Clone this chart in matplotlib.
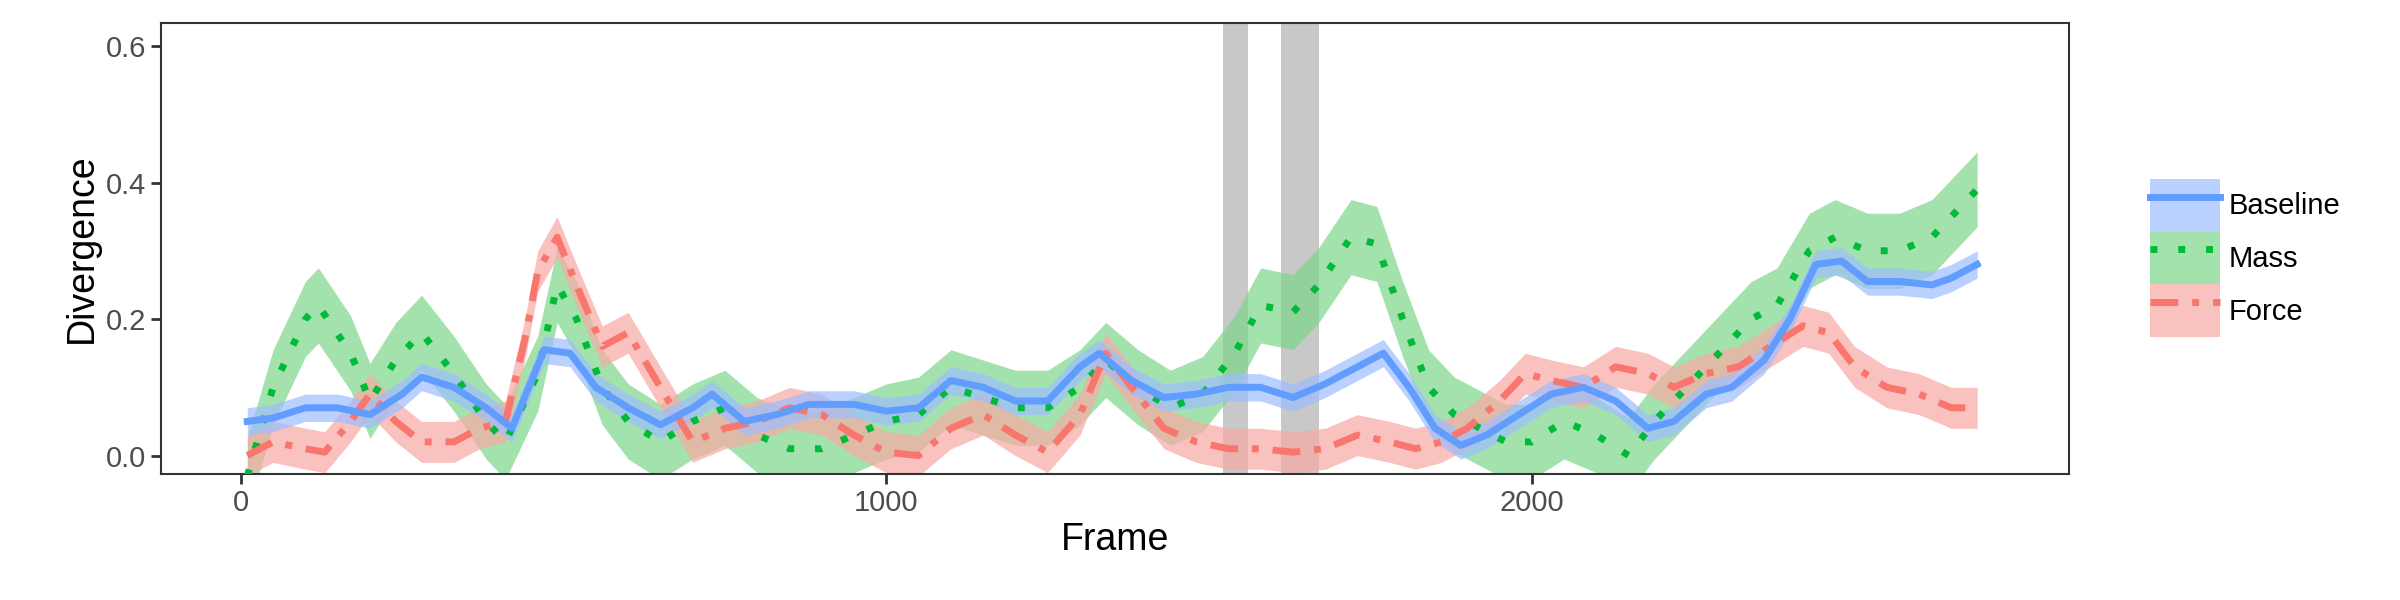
import matplotlib
matplotlib.use("Agg")
import matplotlib.pyplot as plt
from matplotlib.patches import Patch
from matplotlib.lines import Line2D

plt.rcParams['font.family'] = ['Liberation Sans', 'DejaVu Sans']

baseline_frames = [10,50,100,150,200,250,280,330,380,420,470,510,550,600,650,700,730,780,830,880,950,1000,1050,1100,1150,1200,1250,1300,1330,1380,1430,1480,1530,1580,1630,1680,1730,1770,1810,1850,1890,1930,1980,2030,2080,2130,2180,2220,2270,2310,2360,2400,2440,2480,2520,2570,2620,2650,2690]
baseline_vals = [0.05,0.055,0.07,0.07,0.06,0.09,0.115,0.1,0.07,0.04,0.155,0.15,0.1,0.07,0.045,0.07,0.09,0.05,0.06,0.075,0.075,0.065,0.07,0.11,0.1,0.08,0.08,0.13,0.15,0.11,0.085,0.09,0.1,0.1,0.085,0.105,0.13,0.15,0.1,0.04,0.015,0.03,0.06,0.09,0.1,0.08,0.04,0.05,0.09,0.1,0.14,0.2,0.28,0.285,0.255,0.255,0.25,0.26,0.28]

mass_frames = [10,50,100,120,170,200,240,280,330,380,410,460,490,520,560,600,650,700,750,800,850,900,950,1000,1050,1100,1150,1200,1250,1300,1340,1390,1440,1490,1540,1580,1630,1670,1720,1760,1800,1840,1880,1920,1960,2000,2050,2100,2150,2190,2240,2290,2340,2380,2430,2470,2520,2570,2620,2660,2690]
mass_vals = [-0.03,0.1,0.2,0.22,0.15,0.08,0.14,0.18,0.12,0.05,0.02,0.12,0.25,0.2,0.1,0.05,0.02,0.05,0.07,0.03,0.01,0.01,0.03,0.05,0.06,0.1,0.085,0.07,0.07,0.1,0.14,0.1,0.07,0.09,0.15,0.22,0.21,0.25,0.32,0.31,0.2,0.1,0.06,0.04,0.02,0.02,0.05,0.03,0.0,0.05,0.1,0.15,0.2,0.22,0.3,0.32,0.3,0.3,0.32,0.36,0.39]

force_frames = [10,50,100,130,170,200,240,280,330,370,410,440,460,490,520,560,600,650,700,750,800,850,900,950,1000,1050,1100,1150,1200,1250,1300,1340,1380,1430,1480,1530,1580,1630,1680,1730,1780,1820,1860,1900,1950,1990,2030,2080,2130,2180,2220,2270,2320,2370,2420,2460,2500,2550,2600,2650,2690]
force_vals = [0.0,0.02,0.01,0.005,0.05,0.09,0.05,0.02,0.02,0.04,0.05,0.17,0.27,0.32,0.25,0.16,0.18,0.1,0.02,0.04,0.05,0.07,0.06,0.03,0.005,0.0,0.04,0.06,0.03,0.005,0.06,0.15,0.1,0.04,0.02,0.01,0.01,0.005,0.01,0.03,0.02,0.01,0.02,0.04,0.08,0.12,0.11,0.1,0.13,0.12,0.1,0.12,0.13,0.16,0.19,0.18,0.13,0.1,0.09,0.07,0.07]

band_halfwidth = {"Baseline": 0.02, "Mass": 0.055, "Force": 0.03}
shaded_ranges = [(1521, 1561), (1611, 1671)]
series_names = ["Baseline", "Mass", "Force"]

colors = {"Baseline": "#619CFF", "Mass": "#00BA38", "Force": "#F8766D"}
fills = {"Baseline": "#9DBDFF", "Mass": "#7DD68A", "Force": "#F9A9A4"}
styles = {"Baseline": "-", "Mass": (0, (1, 3)), "Force": (0, (4, 2, 1, 2))}

fig = plt.figure(figsize=(24, 6), dpi=100)
ax = fig.add_axes([0.067, 0.21, 0.795, 0.752])

for a, b in shaded_ranges:
    ax.axvspan(a, b, color="#C8C8C8", zorder=0, lw=0)

data = {"Baseline": (baseline_frames, baseline_vals),
        "Mass": (mass_frames, mass_vals),
        "Force": (force_frames, force_vals)}
for name in ["Mass", "Force", "Baseline"]:
    fx, fy = data[name]
    h = band_halfwidth[name]
    ax.fill_between(fx, [v - h for v in fy], [v + h for v in fy],
                    color=fills[name], alpha=0.7, lw=0, zorder=1)
for name in ["Mass", "Force", "Baseline"]:
    fx, fy = data[name]
    ax.plot(fx, fy, color=colors[name], ls=styles[name], lw=5, zorder=3)

ax.set_xlim(-124, 2832)
ax.set_ylim(-0.027, 0.634)
ax.set_xticks([0, 1000, 2000])
ax.set_yticks([0.0, 0.2, 0.4, 0.6])
ax.set_yticklabels(["0.0", "0.2", "0.4", "0.6"])
ax.tick_params(labelsize=21, length=7, width=2, color="#333333", labelcolor="#4D4D4D")
for s in ax.spines.values():
    s.set_linewidth(1.5)
    s.set_color("#333333")
ax.set_xlabel("Frame", fontsize=27)
ax.set_ylabel("Divergence", fontsize=27)

handles = [(Patch(facecolor=fills[n], alpha=0.7, lw=0), Line2D([], [], color=colors[n], ls=styles[n], lw=5)) for n in series_names]
leg = fig.legend(handles, series_names, loc="center left", bbox_to_anchor=(0.885, 0.57),
                 frameon=False, fontsize=21, handlelength=2.4, handleheight=2.4,
                 labelspacing=0.0, handletextpad=0.3)
fig.savefig("out.png", dpi=100)
